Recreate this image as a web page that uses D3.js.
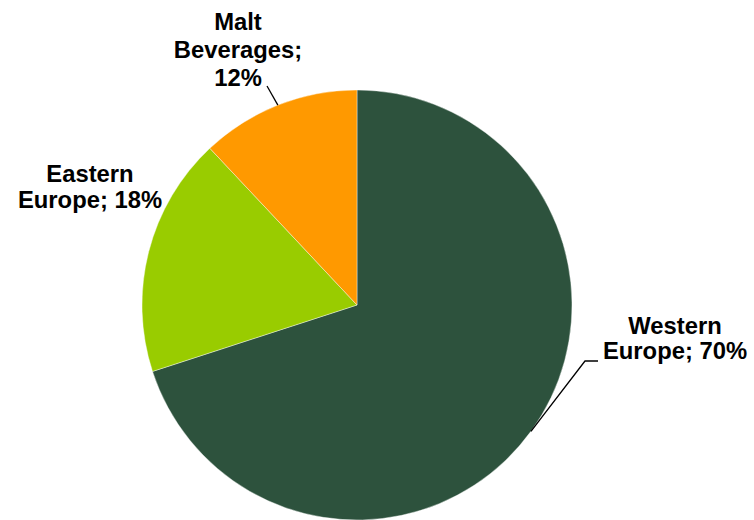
<!DOCTYPE html>
<html>
<head>
	<meta charset="utf-8">
	<title>Pie</title>
	<script src="https://d3js.org/d3.v7.min.js"></script>
	<style>
		body { margin: 0; background: white; }
		.lbl { font-family: "Liberation Sans", Arial, sans-serif; font-weight: bold; font-size: 23.8px; fill: black; }
		.leader { stroke: black; stroke-width: 1.3; fill: none; }
	</style>
</head>
<body>
<div id="chart"></div>
<script>
	// data
	var categories = ["Western Europe", "Eastern Europe", "Malt Beverages"];
	var shares = [70, 18, 12];
	var labelLines = [["Western", "Europe; 70%"], ["Eastern", "Europe; 18%"], ["Malt", "Beverages;", "12%"]];
	var colors = ["#2D523D", "#99CC00", "#FF9900"];

	var W = 754, H = 520, cx = 357, cy = 305, R = 215;

	// label placement (offset from centre, first baseline), line step, leader elbows
	var labelPos = [[318, 29], [-267, -123], [-119, -275]];
	var lineStep = [25, 26, 28];
	var leaders = [
		[[228, 56], [241, 56]],
		null,
		[[-90, -219]]
	];

	var svg = d3.select("#chart").append("svg")
		.attr("width", W).attr("height", H);
	var g = svg.append("g").attr("transform", "translate(" + cx + "," + cy + ")");

	var pie = d3.pie().sort(null).value(function(d) { return d; });
	var arcs = pie(shares);
	var arc = d3.arc().innerRadius(0).outerRadius(R);

	g.selectAll("path.slice")
		.data(arcs)
		.enter().append("path")
		.attr("class", "slice")
		.attr("d", arc)
		.attr("fill", function(d, i) { return colors[i]; })
		.attr("stroke", "white")
		.attr("stroke-width", 0.4);

	// leader lines
	var line = d3.line();
	arcs.forEach(function(d, i) {
		if (!leaders[i]) return;
		var a = (d.startAngle + d.endAngle) / 2;
		var p0 = [R * Math.sin(a), -R * Math.cos(a)];
		g.append("path").attr("class", "leader")
			.attr("d", line([p0].concat(leaders[i])));
	});

	// labels
	categories.forEach(function(c, i) {
		var t = g.append("text").attr("class", "lbl")
			.attr("text-anchor", "middle")
			.attr("x", labelPos[i][0]).attr("y", labelPos[i][1]);
		labelLines[i].forEach(function(s, k) {
			t.append("tspan").attr("x", labelPos[i][0]).attr("dy", k === 0 ? 0 : lineStep[i]).text(s);
		});
	});
</script>
</body>
</html>
